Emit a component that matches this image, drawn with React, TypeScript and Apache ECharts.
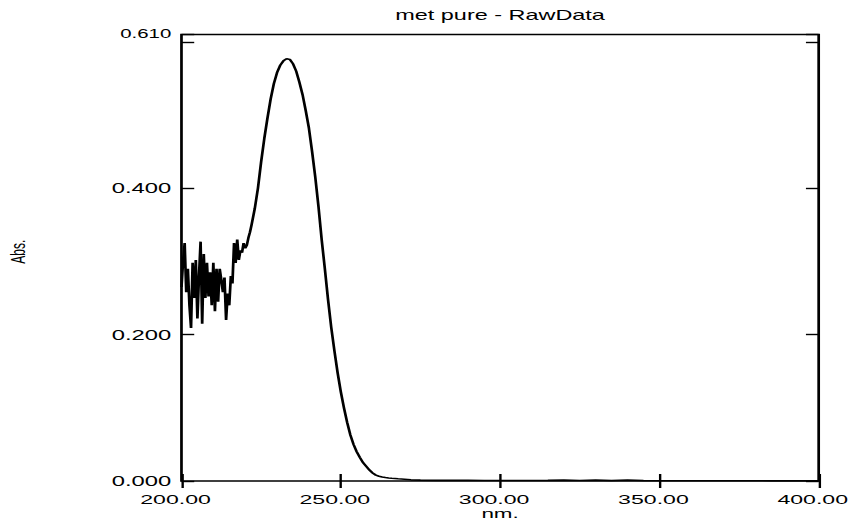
import React, { useEffect, useRef } from "react";
import * as echarts from "echarts";

const titleText = "met pure - RawData";
const xAxisName = "nm.";
const yAxisName = "Abs.";

const xTicks = [200, 250, 300, 350, 400];
const yTicks = [0, 0.2, 0.4, 0.61];
const yTickLabels = ["0.000", "0.200", "0.400", "0.610"];

const wavelengths = [
  200.0, 200.5, 201.0, 201.5, 202.0, 202.5, 203.0, 203.5, 204.0, 204.5,
  205.0, 205.5, 206.0, 206.5, 207.0, 207.5, 208.0, 208.5, 209.0, 209.5,
  210.0, 210.5, 211.0, 211.5, 212.0, 212.5, 213.0, 213.5, 214.0, 214.5,
  215.0, 215.5, 216.0, 216.5, 217.0, 217.5, 218.0, 218.5, 219.0, 219.5,
  220.0, 220.5, 221.0, 221.5,
  222, 223, 224, 225, 226, 227, 228, 229, 230, 231,
  232, 233, 234, 235, 236, 237, 238, 239, 240, 241,
  242, 243, 244, 245, 246, 247, 248, 249, 250, 251,
  252, 253, 254, 255, 256, 257, 258, 259, 260, 261,
  262, 263, 264, 265, 266,
  268, 270, 272, 275,
  280, 285, 290, 295, 300, 305, 310, 315, 320, 325,
  330, 335, 340, 345, 350, 355, 360, 365, 370, 375,
  380, 385, 390, 395, 400,
];

const absorbance = [
  0.265, 0.300, 0.325, 0.258, 0.290, 0.240, 0.209, 0.298, 0.250, 0.302,
  0.222, 0.280, 0.327, 0.215, 0.310, 0.250, 0.298, 0.252, 0.285, 0.240,
  0.298, 0.232, 0.290, 0.245, 0.290, 0.275, 0.258, 0.278, 0.220, 0.256,
  0.240, 0.280, 0.270, 0.325, 0.298, 0.330, 0.302, 0.315, 0.312, 0.325,
  0.318, 0.322, 0.332, 0.340,
  0.350, 0.372, 0.400, 0.436, 0.468, 0.496, 0.522, 0.543, 0.558, 0.568,
  0.574, 0.577, 0.576, 0.570, 0.560, 0.545, 0.528, 0.506, 0.482, 0.450,
  0.415, 0.375, 0.330, 0.290, 0.248, 0.210, 0.178, 0.148, 0.122, 0.100,
  0.080, 0.063, 0.050, 0.040, 0.032, 0.025, 0.020, 0.015, 0.011, 0.008,
  0.0065, 0.0055, 0.0048, 0.0042, 0.0037,
  0.003, 0.0024, 0.0016, 0.0012,
  0.0009, 0.0008, 0.0008, 0.0007, 0.0007, 0.0006, 0.0006, 0.0008, 0.0012, 0.0006,
  0.0012, 0.0005, 0.0012, 0.0005, 0.0004, 0.0004, 0.0004, 0.0003, 0.0003, 0.0003,
  0.0003, 0.0002, 0.0002, 0.0002, 0.0002,
];

const INNER_W = 502;
const OUTER_W = 853;
const H = 520;
const SX = OUTER_W / INNER_W;

export default function App() {
  const ref = useRef<HTMLDivElement>(null);

  useEffect(() => {
    if (!ref.current) return;
    const chart = echarts.init(ref.current, undefined, { renderer: "svg" });
    const font = "'Liberation Sans', Arial, sans-serif";
    const gridLeft = 106.8;
    const gridRight = 20.2;
    const plotCenter = gridLeft + (INNER_W - gridLeft - gridRight) / 2;

    const yLabel = (v: number) => {
      const i = yTicks.findIndex((t) => Math.abs(t - v) < 1e-9);
      if (i < 0) return "";
      if (i === yTicks.length - 1) return "{s|" + yTickLabels[i] + "}";
      return yTickLabels[i];
    };
    const xLabel = (v: number) =>
      xTicks.some((t) => Math.abs(t - v) < 1e-9) ? v.toFixed(2) : "";

    const tick = { show: true, inside: true, lineStyle: { color: "#000", width: 1.4 } };

    const option: any = {
      animation: false,
      backgroundColor: "#fff",
      title: {
        text: titleText,
        left: plotCenter,
        textAlign: "center",
        top: 8,
        padding: 0,
        textStyle: { fontFamily: font, fontSize: 13.8, fontWeight: "normal", color: "#000" },
      },
      grid: {
        left: gridLeft,
        right: gridRight,
        top: 34.5,
        bottom: 39,
        containLabel: false,
        outerBoundsMode: "none",
        show: true,
        borderColor: "#000",
        borderWidth: 1.6,
        backgroundColor: "transparent",
      },
      xAxis: [
        {
          type: "value",
          min: 200,
          max: 400,
          interval: 50,
          position: "bottom",
          name: xAxisName,
          nameLocation: "middle",
          nameGap: 26.5,
          nameMoveOverlap: false,
          nameTextStyle: { fontFamily: font, fontSize: 13.2, lineHeight: 12, color: "#000" },
          axisLine: { show: false },
          axisTick: { ...tick, length: 7 },
          splitLine: { show: false },
          axisLabel: {
            formatter: xLabel,
            margin: 12,
            lineHeight: 12,
            padding: [0, 7, 0, 0],
            fontFamily: font,
            fontSize: 13.6,
            color: "#000",
            showMinLabel: true,
            showMaxLabel: true,
          },
        },
        {
          type: "value",
          min: 200,
          max: 400,
          interval: 50,
          position: "top",
          axisLine: { show: false },
          axisTick: { ...tick, length: 7 },
          splitLine: { show: false },
          axisLabel: { show: false },
        },
      ],
      yAxis: [
        {
          type: "value",
          min: 0,
          max: 0.61,
          interval: 0.2,
          position: "left",
          name: yAxisName,
          nameLocation: "middle",
          nameGap: 90,
          nameRotate: 90,
          nameTextStyle: { fontFamily: font, fontSize: 12, color: "#000", padding: [0, 0, 0, 12] },
          axisLine: { show: false },
          axisTick: { ...tick, length: 7.5 },
          splitLine: { show: false },
          axisLabel: {
            formatter: yLabel,
            margin: 6,
            fontFamily: font,
            fontSize: 14,
            color: "#000",
            showMinLabel: true,
            showMaxLabel: true,
            rich: { s: { fontFamily: font, fontSize: 12, color: "#000" } },
          },
        },
        {
          type: "value",
          min: 0,
          max: 0.61,
          interval: 0.2,
          position: "right",
          axisLine: { show: false },
          axisTick: { ...tick, length: 7.5 },
          splitLine: { show: false },
          axisLabel: { show: false },
        },
      ],
      series: [
        {
          type: "line",
          xAxisIndex: 0,
          yAxisIndex: 0,
          data: wavelengths.map((w, i) => [w, absorbance[i]]),
          showSymbol: false,
          symbol: "none",
          lineStyle: { color: "#000", width: 1.6 },
          clip: true,
        },
      ],
    };
    chart.setOption(option);
    return () => chart.dispose();
  }, []);

  return (
    <div
      style={{
        position: "absolute",
        left: 0,
        top: 0,
        width: OUTER_W,
        height: H,
        overflow: "hidden",
        background: "#fff",
      }}
    >
      <div
        ref={ref}
        style={{
          width: INNER_W,
          height: H,
          transform: `scaleX(${SX})`,
          transformOrigin: "0 0",
        }}
      />
    </div>
  );
}
